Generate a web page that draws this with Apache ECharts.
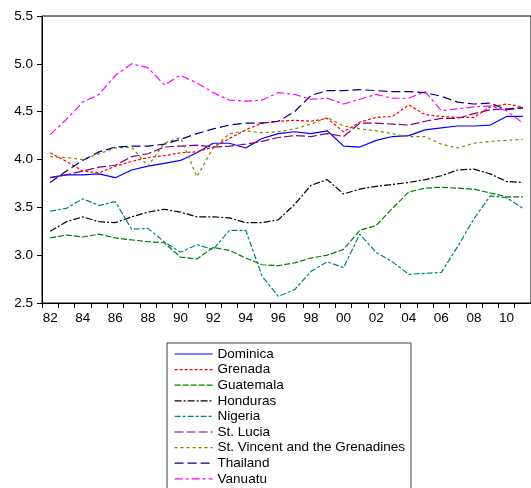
<!DOCTYPE html>
<html>
<head>
<meta charset="utf-8">
<script src="https://cdn.jsdelivr.net/npm/echarts@6/dist/echarts.min.js"></script>
<style>
html,body{margin:0;padding:0;background:#fff;}
#chart{width:531px;height:488px;}
</style>
</head>
<body>
<div id="chart"></div>
<script>
const years = ['82','83','84','85','86','87','88','89','90','91','92','93','94','95','96','97','98','99','00','01','02','03','04','05','06','07','08','09','10','11'];
const seriesNames = ['Dominica','Grenada','Guatemala','Honduras','Nigeria','St. Lucia','St. Vincent and the Grenadines','Thailand','Vanuatu'];
const dominica = [3.81,3.84,3.84,3.85,3.81,3.89,3.93,3.96,3.99,4.07,4.17,4.17,4.12,4.22,4.27,4.29,4.27,4.30,4.14,4.13,4.20,4.24,4.25,4.31,4.33,4.35,4.35,4.36,4.45,4.45];
const grenada = [4.07,3.98,3.88,3.86,3.93,3.98,4.02,4.04,4.07,4.08,4.13,4.22,4.31,4.38,4.40,4.41,4.40,4.43,4.29,4.39,4.44,4.45,4.57,4.47,4.45,4.44,4.44,4.55,4.58,4.55];
const guatemala = [3.18,3.21,3.19,3.22,3.18,3.16,3.14,3.13,2.98,2.96,3.08,3.05,2.97,2.90,2.89,2.92,2.97,3.00,3.06,3.26,3.31,3.49,3.66,3.70,3.71,3.70,3.69,3.65,3.61,3.61];
const honduras = [3.25,3.35,3.40,3.35,3.34,3.40,3.45,3.48,3.45,3.40,3.40,3.39,3.34,3.34,3.37,3.53,3.73,3.79,3.64,3.69,3.72,3.74,3.76,3.79,3.83,3.89,3.90,3.85,3.77,3.76];
const nigeria = [3.46,3.49,3.59,3.52,3.56,3.27,3.28,3.14,3.03,3.11,3.06,3.26,3.26,2.78,2.57,2.64,2.83,2.93,2.87,3.22,3.03,2.93,2.80,2.81,2.82,3.09,3.38,3.62,3.60,3.49];
const stLucia = [3.81,3.84,3.88,3.92,3.94,4.03,4.06,4.13,4.14,4.15,4.13,4.14,4.16,4.19,4.23,4.25,4.24,4.27,4.24,4.38,4.38,4.37,4.36,4.40,4.43,4.43,4.48,4.52,4.53,4.54];
const stVincent = [4.03,4.02,4.00,4.06,4.12,4.13,3.93,4.17,4.23,3.82,4.12,4.27,4.30,4.28,4.29,4.32,4.37,4.44,4.35,4.32,4.30,4.27,4.24,4.24,4.16,4.12,4.17,4.19,4.20,4.21];
const thailand = [3.76,3.88,3.99,4.08,4.13,4.14,4.14,4.16,4.21,4.27,4.32,4.36,4.38,4.38,4.40,4.50,4.67,4.72,4.72,4.73,4.72,4.71,4.71,4.70,4.66,4.60,4.58,4.59,4.52,4.54];
const vanuatu = [4.26,4.42,4.60,4.68,4.88,5.00,4.96,4.78,4.88,4.80,4.70,4.62,4.61,4.62,4.70,4.68,4.63,4.64,4.58,4.63,4.68,4.64,4.64,4.71,4.51,4.53,4.55,4.56,4.51,4.38];
const yTicks = {min: 2.5, max: 5.5, interval: 0.5};

const values = [dominica, grenada, guatemala, honduras, nigeria, stLucia, stVincent, thailand, vanuatu];
const colors = ['#0000FF','#FF0000','#008000','#000000','#008080','#800080','#808000','#000080','#FF00FF'];
const dashes = ['solid',[3,2],[6,2],[7,2,2,2],[6,2,3,2],[9,3],[3,3],[9,4],[8,3,3,3]];
const font = 'Liberation Sans, Arial, sans-serif';

const chart = echarts.init(document.getElementById('chart'), null, {renderer:'canvas'});
chart.setOption({
  animation: false,
  backgroundColor: '#fff',
  grid: {left: 42, top: 16, width: 493, height: 287, show: true, borderColor: '#000', borderWidth: 1, backgroundColor: 'transparent'},
  xAxis: {
    type: 'category', data: years, boundaryGap: true,
    axisLine: {lineStyle: {color: '#000', width: 1}},
    axisTick: {show: true, interval: 0, alignWithLabel: false, length: 5, lineStyle: {color: '#000'}},
    axisLabel: {interval: 1, color: '#000', fontSize: 13.5, fontFamily: font, margin: 8},
    splitLine: {show: false}
  },
  yAxis: {
    type: 'value', min: yTicks.min, max: yTicks.max, interval: yTicks.interval,
    axisLine: {show: true, lineStyle: {color: '#000', width: 1}},
    axisTick: {show: true, length: 5, lineStyle: {color: '#000'}},
    axisLabel: {color: '#000', fontSize: 13.5, fontFamily: font, margin: 9, formatter: v => v.toFixed(1)},
    splitLine: {show: false}
  },
  legend: {
    orient: 'vertical', left: 167, top: 343, height: 300,
    padding: [4, 6, 6, 7],
    itemWidth: 38, itemHeight: 13, itemGap: 1.6,
    borderColor: '#404040', borderWidth: 1,
    itemStyle: {opacity: 0},
    lineStyle: {width: 1.2},
    textStyle: {color: '#000', fontSize: 13.5, fontFamily: font},
    data: seriesNames
  },
  series: seriesNames.map((name, i) => ({
    name, type: 'line', data: values[i], symbol: 'none', smooth: false,
    lineStyle: {color: colors[i], width: 1.2, type: dashes[i]},
    itemStyle: {color: colors[i]}
  }))
});
</script>
</body>
</html>
